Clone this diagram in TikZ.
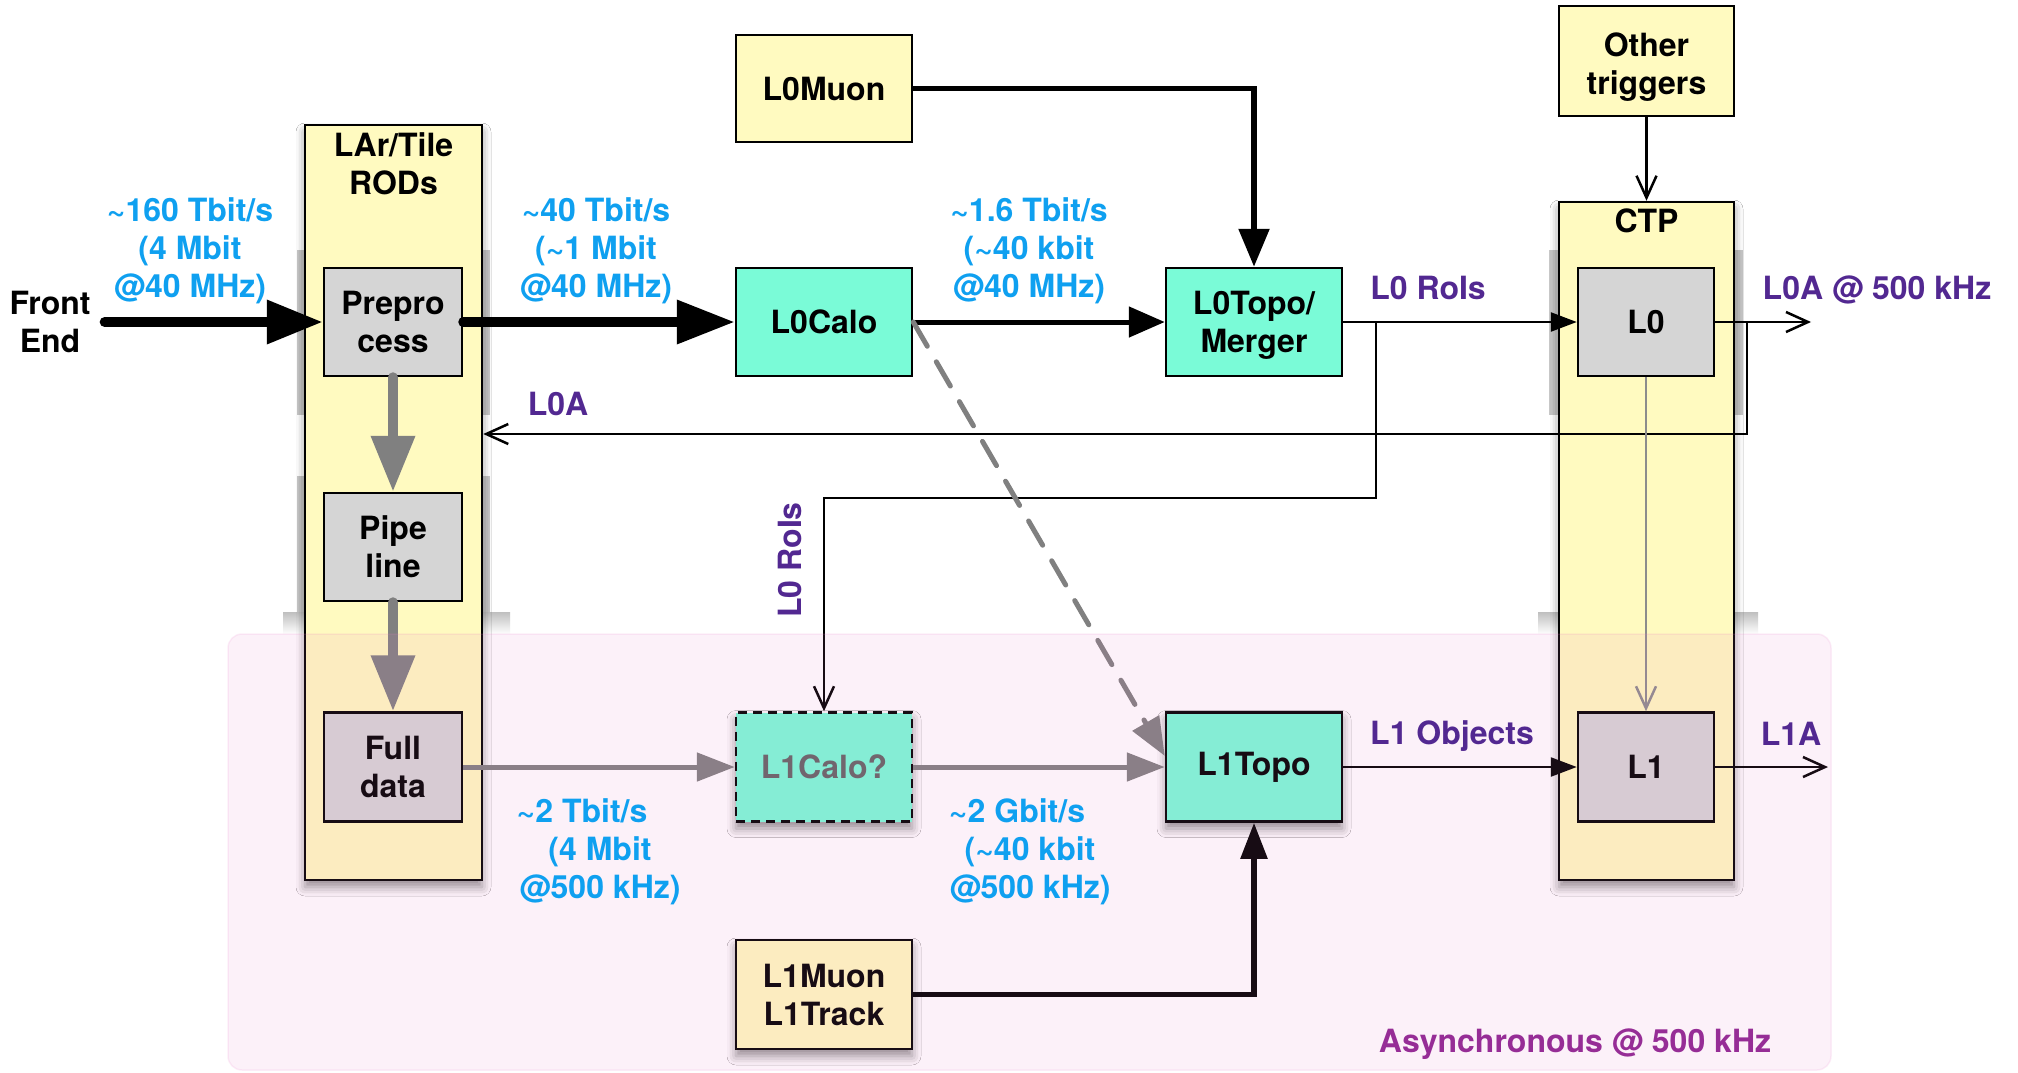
\documentclass[tikz,border=0pt]{standalone}
\usepackage{fontspec}
\setmainfont{TeX Gyre Heros}
\usetikzlibrary{arrows.meta,calc,shadows.blur}
\definecolor{boxyellow}{RGB}{255,250,192}
\definecolor{boxteal}{RGB}{122,251,215}
\definecolor{boxgray}{RGB}{213,213,213}
\definecolor{rateblue}{RGB}{15,160,240}
\definecolor{sigpurple}{RGB}{82,40,145}
\definecolor{asyncmag}{RGB}{150,45,150}
\definecolor{asyncpink}{RGB}{235,120,200}
\definecolor{arrowgray}{RGB}{128,128,128}
\definecolor{qgray}{RGB}{100,100,100}
\begin{document}
\begin{tikzpicture}[x=1pt,y=-1pt,
  lbl/.style={font=\bfseries\fontsize{32}{38}\selectfont, align=center, inner sep=0pt},
  blk/.style={lbl, draw=black, line width=2.5pt, rectangle},
  yel/.style={blk, fill=boxyellow},
  tealbox/.style={blk, fill=boxteal},
  grybox/.style={blk, fill=boxgray},
  shad/.style={blur shadow={shadow xshift=0pt,shadow yshift=-7pt,shadow blur radius=9pt,shadow opacity=45}},
  rate/.style={lbl, text=rateblue},
  sig/.style={lbl, text=sigpurple},
  thinln/.style={line width=2.5pt, draw=black},
  barb/.style={-{Straight Barb[length=22pt,width=20pt]}},
  smalltri/.style={-{Triangle[length=26pt,width=19pt]}},
]
\fill[white] (0,0) rectangle (2018,1072);
\useasboundingbox (0,0) rectangle (2018,1072);

% shadow stripes behind the RODs and CTP
\fill[black!22] (297,250) rectangle (490,415);
\fill[black!22] (297,476) rectangle (490,612);
\shade[top color=black!25, bottom color=white] (283,612) rectangle (510,634);
\fill[black!22] (1549,250) rectangle (1743,415);
\shade[top color=black!25, bottom color=white] (1538,612) rectangle (1758,634);

% container boxes
\node[yel, shad, minimum width=177pt, minimum height=755pt] (lar) at (393.5,502.5) {};
\node[lbl] (lart) at (393.5,164) {LAr/Tile\\RODs};
\node[yel, shad, minimum width=175pt, minimum height=678pt] (ctp) at (1646.5,541) {};
\node[lbl] (ctpt) at (1646.5,221) {CTP};

% blocks
\node[grybox, minimum width=138pt, minimum height=108pt] (prep) at (393,322) {Prepro\\cess};
\node[grybox, minimum width=138pt, minimum height=108pt] (pipe) at (393,547) {Pipe\\line};
\node[grybox, minimum width=138pt, minimum height=109pt] (full) at (393,767) {Full\\data};
\node[yel, minimum width=176pt, minimum height=107pt] (l0muon) at (824,88.5) {L0Muon};
\node[tealbox, minimum width=176pt, minimum height=108pt, text depth=0pt] (l0topo) at (1254,322) {L0Topo/\\Merger};
\node[tealbox, minimum width=176pt, minimum height=108pt] (l0calo) at (824,322) {L0Calo};
\node[yel, minimum width=175pt, minimum height=110pt] (other) at (1646.5,61) {};
\node[lbl] (othert) at (1646.5,67) {Other\\triggers};
\node[grybox, minimum width=136pt, minimum height=108pt] (l0) at (1646,322) {L0};
\node[grybox, minimum width=136pt, minimum height=109pt] (l1) at (1646,767) {L1};
\node[tealbox, shad, dash pattern=on 9pt off 6pt, text=qgray, minimum width=176pt, minimum height=109pt] (l1calo) at (824,767) {L1Calo?};
\node[tealbox, shad, minimum width=176pt, minimum height=109pt] (l1topo) at (1254,767) {L1Topo};
\node[yel, shad, minimum width=176pt, minimum height=109pt] (l1muon) at (824,994.5) {L1Muon\\L1Track};
\node[lbl] (fe) at (50,322) {Front\\End};

% connectors
\draw[line width=10pt, line cap=round, -{Triangle[length=56pt,width=42pt]}] (fe.east) ++(14,0) -- (prep.west);
\draw[line width=10pt, line cap=round, -{Triangle[length=58pt,width=42pt]}] (prep.east) -- (l0calo.west);
\draw[line width=5pt, -{Triangle[length=36pt,width=30pt]}] (l0calo.east) -- (l0topo.west);
\draw[line width=5.5pt, -{Triangle[length=38pt,width=30pt]}] (l0muon.east) -| (l0topo.north);
\draw[thinln, smalltri] (l0topo.east) -- (l0.west);
\coordinate (br) at (1376,322);
\coordinate (brk) at (1376,498);
\draw[thinln, barb] (br) -- (brk) -| (l1calo.north);
\coordinate (l0o) at (1811,322);
\draw[thinln, barb] (l0.east) -- (l0o);
\coordinate (fb) at (1747,322);
\coordinate (fbk) at (1747,434);
\draw[thinln, barb] (fb) -- (fbk) -- (fbk -| lar.east);
\draw[thinln, barb] (other.south) -- (ctp.north);
\draw[line width=2.5pt, draw=black!45, barb] (l0.south) -- (l1.north);
\draw[thinln, smalltri] (l1topo.east) -- (l1.west);
\coordinate (l1o) at (1828,767);
\draw[thinln, barb] (l1.east) -- (l1o);
\draw[line width=10pt, arrowgray, line cap=round, -{Triangle[length=56pt,width=42pt]}] (prep.south) -- (pipe.north);
\draw[line width=10pt, arrowgray, line cap=round, -{Triangle[length=56pt,width=42pt]}] (pipe.south) -- (full.north);
\draw[line width=5pt, arrowgray, -{Triangle[length=38pt,width=28pt]}] (full.east) -- (l1calo.west);
\draw[line width=5pt, arrowgray, -{Triangle[length=38pt,width=28pt]}] (l1calo.east) -- (l1topo.west);
\draw[line width=5pt, arrowgray, line cap=round, dash pattern=on 28pt off 18pt, -{Triangle[length=38pt,width=30pt]}] (l0calo.east) -- ($(l1topo.north west)!0.4!(l1topo.south west)$);
\draw[line width=5.5pt, -{Triangle[length=36pt,width=26pt]}] (l1muon.east) -| (l1topo.south);

% asynchronous region overlay
\fill[asyncpink, fill opacity=0.1, rounded corners=14pt] (228,634) rectangle (1831,1070);
\draw[asyncpink, draw opacity=0.12, line width=1.5pt, rounded corners=14pt] (228,634) rectangle (1831,1070);

% rate labels
\node[rate] (r1) at (190,251) {\textasciitilde 160 Tbit/s\\(4 Mbit\\@40 MHz)};
\node[rate] (r2) at (596,251) {\textasciitilde 40 Tbit/s\\(\textasciitilde 1 Mbit\\@40 MHz)};
\node[rate] (r3) at (1029,251) {\textasciitilde 1.6 Tbit/s\\(\textasciitilde 40 kbit\\@40 MHz)};
\node[rate] (r4) at (600,852) {\textasciitilde 2 Tbit/s\hspace*{36pt}\\(4 Mbit\\@500 kHz)};
\node[rate] (r5) at (1030,852) {\textasciitilde 2 Gbit/s\hspace*{26pt}\\(\textasciitilde 40 kbit\\@500 kHz)};

% signal labels
\node[sig] (s1) at (1428,288) {L0 RoIs};
\node[sig] (s2) at (1877,290) {L0A @ 500 kHz};
\node[sig] (s3) at (558,404) {L0A};
\node[sig, rotate=90] (s4) at (790,560) {L0 RoIs};
\node[sig] (s5) at (1452,736) {L1 Objects};
\node[sig] (s6) at (1791,734) {L1A};
\node[lbl, text=asyncmag] (s7) at (1575,1044) {Asynchronous @ 500 kHz};
\end{tikzpicture}
\end{document}
